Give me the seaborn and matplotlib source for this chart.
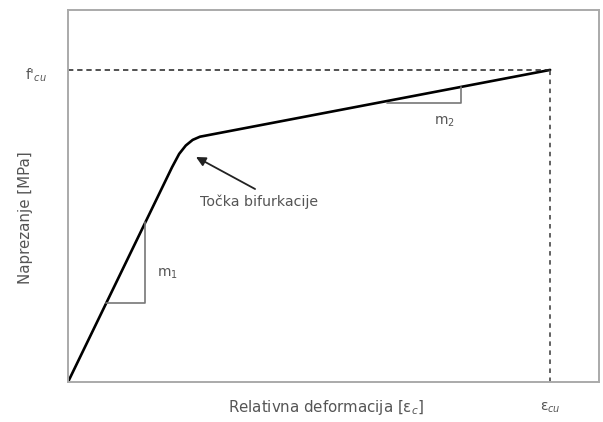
import matplotlib
matplotlib.use("Agg")
import matplotlib.pyplot as plt
import seaborn as sns
import pandas as pd

# Curve (strain in permille, stress in MPa, no ticks shown)
strain = [0.0, 0.755, 0.807, 0.855, 0.905, 0.958, 3.5]
stress = [0.0, 34.4, 36.55, 37.89, 38.79, 39.3, 50.0]

eps_cu = 3.5
f_cu = 50.0

# Slope triangles m1 and m2
tri1_x = [0.276, 0.559, 0.559]
tri1_y = [12.66, 12.66, 25.6]
tri2_x = [2.316, 2.853, 2.853]
tri2_y = [44.7, 44.7, 47.2]

# Bifurcation annotation (arrow tip, arrow tail, text anchor)
bif_tip = (0.929, 36.05)
bif_tail = (1.358, 30.92)
bif_text = (0.958, 28.84)

XMAX = 3.855
YMAX = 59.6

sns.set_style("white")
plt.rcParams['font.family'] = ['DejaVu Sans']
plt.rcParams['mathtext.fontset'] = 'dejavusans'

df = pd.DataFrame({'strain': strain, 'stress': stress})

fig = plt.figure(figsize=(6.03, 4.22), dpi=100)
ax = fig.add_axes([0.1128, 0.0948, 0.8806, 0.8815])

# Main stress-strain curve
sns.lineplot(data=df, x='strain', y='stress', sort=False, color='black',
             linewidth=1.9, ax=ax)

# Reference dashed lines
ax.plot([0, eps_cu], [f_cu, f_cu], color='#222222', linestyle=(0, (3.5, 2.5)), linewidth=1.1)
ax.plot([eps_cu, eps_cu], [0, f_cu], color='#555555', linestyle=(0, (2.5, 2.5)), linewidth=1.3)

# Slope triangles
ax.plot(tri1_x, tri1_y, color='#777777', linewidth=1.2)
ax.plot(tri2_x, tri2_y, color='#777777', linewidth=1.2)

text_color = '#555555'
fs = 10.8
ax.text(0.559 + 0.085, 17.3, 'm$_1$', color=text_color, fontsize=fs - 0.8, va='center', ha='left')
ax.text(2.73, 41.7, 'm$_2$', color=text_color, fontsize=fs - 0.8, va='center', ha='center')

# Bifurcation point annotation
ax.annotate('', xy=bif_tip, xytext=bif_tail,
            arrowprops=dict(arrowstyle='-|>', color='#222222', lw=1.3,
                            mutation_scale=14, shrinkA=0, shrinkB=0))
ax.text(bif_text[0], bif_text[1], 'Točka bifurkacije', color=text_color,
        fontsize=fs - 0.6, ha='left', va='center')

# Axis labels
ax.set_xlim(0, XMAX)
ax.set_ylim(0, YMAX)
ax.set_xticks([])
ax.set_yticks([])
ax.set_xlabel('')
ax.set_ylabel('')
ax.text(0.486, -0.068, 'Relativna deformacija [ε$_c$]', transform=ax.transAxes,
        color=text_color, fontsize=fs, ha='center', va='center')
ax.text(-0.081, 0.441, 'Naprezanje [MPa]', transform=ax.transAxes, rotation=90,
        color=text_color, fontsize=fs, ha='center', va='center')
ax.text(eps_cu, -0.07 * YMAX, 'ε$_{cu}$', color=text_color, fontsize=fs - 0.8,
        ha='center', va='center')
ax.text(-0.06 * XMAX, f_cu - 0.8, "f'$_{cu}$", color=text_color, fontsize=fs - 0.8,
        ha='center', va='center')

for s in ax.spines.values():
    s.set_color('#aaaaaa')
    s.set_linewidth(1.4)

fig.savefig('out.png', dpi=100)
